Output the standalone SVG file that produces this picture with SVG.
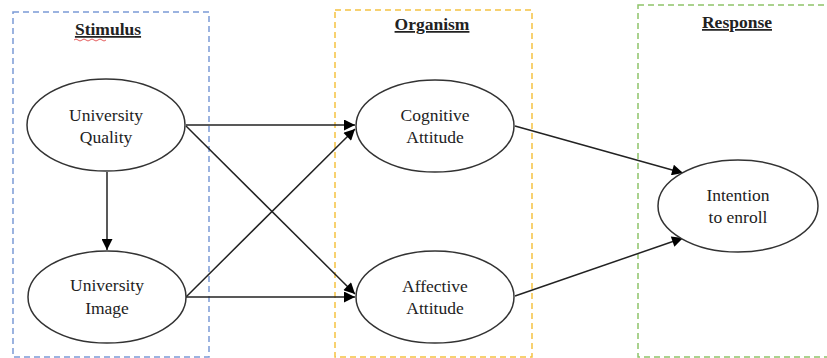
<svg xmlns="http://www.w3.org/2000/svg" width="827" height="358" viewBox="0 0 827 358">
<style>
.frame{fill:none;stroke-width:1.5;stroke-dasharray:6,4}
.node{fill:#fff;stroke:#333;stroke-width:1.5}
.lbl{font-size:17.5px;fill:#222;text-anchor:middle}
.title{font-size:17.5px;font-weight:bold;fill:#222;text-anchor:middle;text-decoration:underline}
.edge{stroke:#222;stroke-width:1.5;fill:none;marker-end:url(#arr)}
</style>
<defs>
<marker id="arr" viewBox="0 0 10 10" refX="10" refY="5" markerWidth="12" markerHeight="11" markerUnits="userSpaceOnUse" orient="auto">
<path d="M0,0 L10,5 L0,10 z" fill="#000"/>
</marker>
</defs>
<rect width="827" height="358" fill="#fff"/>
<g id="frames">
<rect class="frame" x="13" y="12" width="196" height="345" stroke="#7b9bd6"/>
<rect class="frame" x="335" y="10" width="197" height="347" stroke="#f5c242"/>
<rect class="frame" x="638" y="5" width="200" height="352" stroke="#8fc46a"/>
</g>
<g id="titles" font-family="'Liberation Serif', 'Times New Roman', serif">
<text class="title" x="108" y="35">Stimulus</text>
<path d="M74,40 q2,-2 4,0 t4,0 t4,0 t4,0 t4,0 t4,0 t4,0 t4,0" fill="none" stroke="#d33" stroke-width="0.8"/>
<text class="title" x="432" y="30">Organism</text>
<text class="title" x="737" y="28">Response</text>
</g>
<g id="connectors">
<line class="edge" x1="107" y1="172" x2="107" y2="250"/>
<line class="edge" x1="186" y1="125" x2="355" y2="125"/>
<line class="edge" x1="186" y1="126" x2="355" y2="294"/>
<line class="edge" x1="186" y1="297" x2="355" y2="129"/>
<line class="edge" x1="186" y1="297" x2="355" y2="297"/>
<line class="edge" x1="515" y1="126" x2="683" y2="173"/>
<line class="edge" x1="515" y1="296" x2="683" y2="238"/>
</g>
<g font-family="'Liberation Serif', 'Times New Roman', serif">
<g id="university-quality">
<ellipse class="node" cx="106" cy="125" rx="79" ry="46"/>
<text class="lbl" x="106" y="121">University</text>
<text class="lbl" x="106" y="143">Quality</text>
</g>
<g id="university-image">
<ellipse class="node" cx="107" cy="297" rx="79" ry="46"/>
<text class="lbl" x="107" y="291">University</text>
<text class="lbl" x="107" y="314">Image</text>
</g>
<g id="cognitive-attitude">
<ellipse class="node" cx="435" cy="126" rx="79" ry="46"/>
<text class="lbl" x="435" y="121">Cognitive</text>
<text class="lbl" x="435" y="143">Attitude</text>
</g>
<g id="affective-attitude">
<ellipse class="node" cx="435" cy="297" rx="79" ry="46"/>
<text class="lbl" x="435" y="292">Affective</text>
<text class="lbl" x="435" y="314">Attitude</text>
</g>
<g id="intention-to-enroll">
<ellipse class="node" cx="738" cy="206" rx="80" ry="46"/>
<text class="lbl" x="738" y="201">Intention</text>
<text class="lbl" x="738" y="223">to enroll</text>
</g>
</g>
</svg>
